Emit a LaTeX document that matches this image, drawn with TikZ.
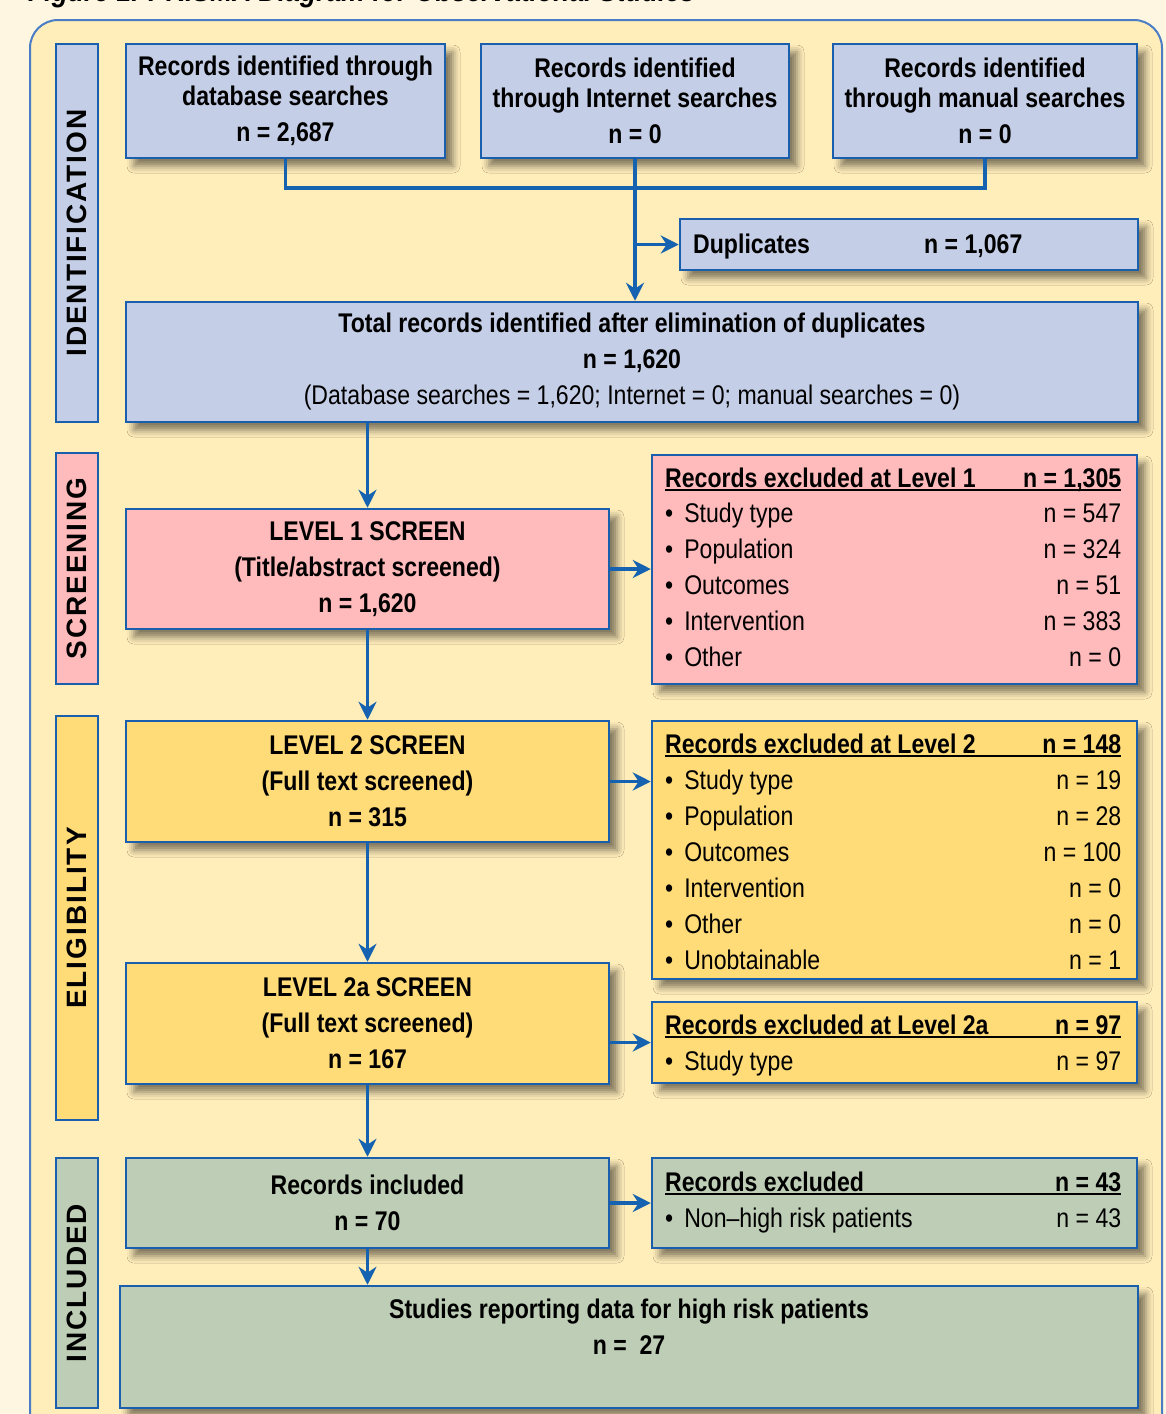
\documentclass[tikz,border=0pt]{standalone}
\usepackage{fontspec}
\setmainfont{Liberation Sans}[FakeStretch=0.855]
\newfontfamily\sidefont{Liberation Sans}[LetterSpace=7]
\usetikzlibrary{arrows.meta,shadows.blur,calc}
\definecolor{pagebg}{HTML}{FEF6E0}
\definecolor{panelbg}{HTML}{FFEDBA}
\definecolor{panelline}{HTML}{4A7DC3}
\definecolor{boxline}{HTML}{1A5FAD}
\definecolor{arrowblue}{HTML}{1462B0}
\definecolor{fillblue}{HTML}{C5CEE7}
\definecolor{fillpink}{HTML}{FFBABC}
\definecolor{fillyellow}{HTML}{FFDC78}
\definecolor{fillgreen}{HTML}{BECDB6}
\tikzset{
  box/.style={draw=boxline, line width=2.5pt, rectangle, inner sep=0pt, align=center,
    font=\fontsize{27}{36}\selectfont\bfseries,
    blur shadow={shadow xshift=8pt, shadow yshift=-8pt, shadow blur radius=7pt, shadow opacity=50}},
  sidebox/.style={draw=boxline, line width=2.5pt, rotate=90, inner sep=0pt,
    font=\sidefont\fontsize{28}{30}\selectfont\bfseries, minimum height=42pt},
  row/.style={anchor=base west, inner sep=0pt, font=\fontsize{27}{30}\selectfont},
  flow/.style={draw=arrowblue, line width=3.5pt, -{Stealth[length=18pt,width=18pt]}},
  link/.style={draw=arrowblue, line width=3.5pt},
}
\newcommand\hdr[2]{\rlap{\rule[-4pt]{456pt}{1.6pt}}\makebox[456pt]{\bfseries #1\hfill #2}}
\newcommand\itm[2]{\makebox[456pt]{\textbullet\hspace{11pt}#1\hfill #2}}
\begin{document}
\begin{tikzpicture}[x=1pt,y=-1pt]
\useasboundingbox (0,0) rectangle (1166,1414);
\clip (0,0) rectangle (1166,1414);
\fill[pagebg] (0,0) rectangle (1166,1414);
\node[anchor=base west, inner sep=0pt, font=\fontsize{31}{34}\selectfont\bfseries\itshape] (title) at (28,1) {Figure 1. PRISMA Diagram for Observational Studies};
\draw[draw=panelline, fill=panelbg, line width=2pt, rounded corners=28pt] (30,20) rectangle (1162,1460);

% side labels
\node[sidebox, fill=fillblue, minimum width=378pt] (sid) at (77,233) {IDENTIFICATION};
\node[sidebox, fill=fillpink, minimum width=231pt] (sscr) at (77,568.5) {SCREENING};
\node[sidebox, fill=fillyellow, minimum width=404pt] (selig) at (77,918) {ELIGIBILITY};
\node[sidebox, fill=fillgreen, minimum width=250pt] (sincl) at (77,1283) {INCLUDED};

% identification
\node[box, fill=fillblue, minimum width=319pt, minimum height=114pt, font=\fontsize{27}{30}\selectfont\bfseries] (db) at (285.5,101)
  {Records identified through\\database searches\\[6pt]n = 2,687};
\node[box, fill=fillblue, minimum width=308pt, minimum height=114pt, font=\fontsize{27}{30}\selectfont\bfseries] (inet) at (635,101)
  {Records identified\\through Internet searches\\[6pt]n = 0};
\node[box, fill=fillblue, minimum width=304pt, minimum height=114pt, font=\fontsize{27}{30}\selectfont\bfseries] (man) at (985,101)
  {Records identified\\through manual searches\\[6pt]n = 0};
\node[box, fill=fillblue, minimum width=458pt, minimum height=51pt] (dup) at (909,244.5) {};
\node[row, font=\fontsize{27}{30}\selectfont\bfseries] (dupl) at (693,253) {Duplicates};
\node[row, font=\fontsize{27}{30}\selectfont\bfseries] (dupn) at (924,253) {n = 1,067};
\node[box, fill=fillblue, minimum width=1012pt, minimum height=120pt] (total) at (632,362)
  {Total records identified after elimination of duplicates\\n = 1,620\\\mdseries(Database searches = 1,620; Internet = 0; manual searches = 0)};

% screening
\node[box, fill=fillpink, minimum width=483pt, minimum height=120pt] (l1) at (367.5,569)
  {LEVEL 1 SCREEN\\(Title/abstract screened)\\n = 1,620};
\node[box, fill=fillpink, minimum width=485pt, minimum height=229pt] (ex1) at (894.5,569.5) {};
\node[row] (ex1h) at (665,487) {\hdr{Records excluded at Level 1}{n = 1,305}};
\node[row] (ex1a) at (665,522) {\itm{Study type}{n = 547}};
\node[row] (ex1b) at (665,558) {\itm{Population}{n = 324}};
\node[row] (ex1c) at (665,594) {\itm{Outcomes}{n = 51}};
\node[row] (ex1d) at (665,630) {\itm{Intervention}{n = 383}};
\node[row] (ex1e) at (665,666) {\itm{Other}{n = 0}};

% eligibility
\node[box, fill=fillyellow, minimum width=483pt, minimum height=121pt] (l2) at (367.5,781.5)
  {LEVEL 2 SCREEN\\(Full text screened)\\n = 315};
\node[box, fill=fillyellow, minimum width=485pt, minimum height=258pt] (ex2) at (894.5,850) {};
\node[row] (ex2h) at (665,753) {\hdr{Records excluded at Level 2}{n = 148}};
\node[row] (ex2a) at (665,789) {\itm{Study type}{n = 19}};
\node[row] (ex2b) at (665,825) {\itm{Population}{n = 28}};
\node[row] (ex2c) at (665,861) {\itm{Outcomes}{n = 100}};
\node[row] (ex2d) at (665,897) {\itm{Intervention}{n = 0}};
\node[row] (ex2e) at (665,933) {\itm{Other}{n = 0}};
\node[row] (ex2f) at (665,969) {\itm{Unobtainable}{n = 1}};
\node[box, fill=fillyellow, minimum width=483pt, minimum height=121pt] (l2x) at (367.5,1023.5)
  {LEVEL 2a SCREEN\\(Full text screened)\\n = 167};
\node[box, fill=fillyellow, minimum width=485pt, minimum height=81pt] (ex2x) at (894.5,1042.5) {};
\node[row] (ex2xh) at (665,1034) {\hdr{Records excluded at Level 2a}{n = 97}};
\node[row] (ex2xa) at (665,1070) {\itm{Study type}{n = 97}};

% included
\node[box, fill=fillgreen, minimum width=483pt, minimum height=90pt] (incl) at (367.5,1203)
  {Records included\\n = 70};
\node[box, fill=fillgreen, minimum width=485pt, minimum height=90pt] (ex3) at (894.5,1203) {};
\node[row] (ex3h) at (665,1191) {\hdr{Records excluded}{n = 43}};
\node[row] (ex3a) at (665,1227) {\itm{Non--high risk patients}{n = 43}};
\node[box, fill=fillgreen, minimum width=1018pt, minimum height=122pt] (studies) at (629,1347) {};
\node[align=center, inner sep=0pt, font=\fontsize{27}{36}\selectfont\bfseries] (studt) at (629,1327)
  {Studies reporting data for high risk patients\\n =~~27};

% connectors
\coordinate (jn) at (635,188);
\draw[link] (db.south) |- (jn) -| (man.south);
\draw[flow] (inet.south) -- (inet.south |- total.north);
\draw[flow] (inet.south |- dup.west) -- (dup.west);
\draw[flow] (l1.north |- total.south) -- (l1.north);
\draw[flow] (l1.east) -- (l1.east -| ex1.west);
\draw[flow] (l2.east) -- (l2.east -| ex2.west);
\draw[flow] (l1.south) -- (l2.north);
\draw[flow] (l2.south) -- (l2x.north);
\draw[flow] (ex2x.west -| l2x.east) -- (ex2x.west);
\draw[flow] (l2x.south) -- (incl.north);
\draw[flow] (incl.east) -- (ex3.west);
\draw[flow] (incl.south) -- (incl.south |- studies.north);
\end{tikzpicture}
\end{document}
